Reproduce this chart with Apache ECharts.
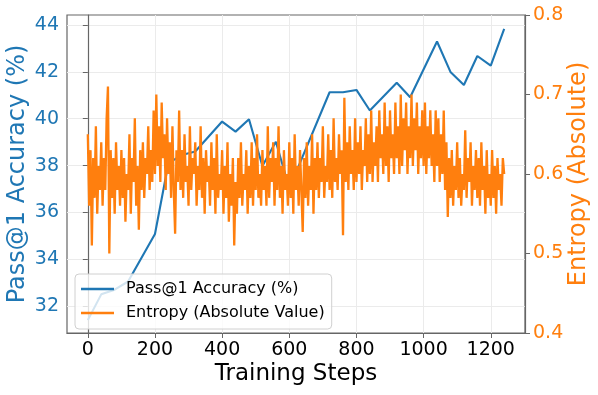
<!DOCTYPE html>
<html>
<head>
<meta charset="utf-8">
<script src="https://cdn.jsdelivr.net/npm/echarts@6/dist/echarts.min.js"></script>
<style>
  html, body { margin: 0; padding: 0; background: #fff; }
  #chart { width: 598px; height: 395px; }
</style>
</head>
<body>
<div id="chart"></div>
<script>
// Pass@1 accuracy, evaluated every ~40 steps
var accSteps = [0, 40, 80, 120, 200, 240, 280, 320, 400, 440, 480, 520, 560, 600,
                720, 760, 800, 840, 920, 960, 1040, 1080, 1120, 1160, 1200, 1240];
var accValues = [31.4, 32.5, 32.7, 33.05, 35.08, 38.1, 38.45, 38.6, 39.88, 39.45, 39.98, 37.98, 39.02, 37.03,
                 41.13, 41.13, 41.23, 40.35, 41.54, 40.92, 43.3, 42.0, 41.44, 42.68, 42.27, 43.84];

// entropy, one reading every 4 steps from 0 to 1240
var entropyEvery = 4;
var entropyValues = [
  0.65, 0.56, 0.63, 0.51, 0.62, 0.57, 0.66, 0.55, 0.61, 0.58,
  0.64, 0.56, 0.62, 0.58, 0.67, 0.71, 0.50, 0.63, 0.57, 0.62,
  0.55, 0.64, 0.58, 0.61, 0.56, 0.63, 0.57, 0.62, 0.54, 0.60,
  0.58, 0.65, 0.55, 0.62, 0.59, 0.67, 0.56, 0.61, 0.53, 0.63,
  0.58, 0.64, 0.57, 0.62, 0.60, 0.66, 0.58, 0.63, 0.59, 0.68,
  0.60, 0.70, 0.61, 0.66, 0.59, 0.69, 0.62, 0.65, 0.58, 0.67,
  0.60, 0.64, 0.57, 0.66, 0.58, 0.525, 0.63, 0.59, 0.68, 0.58,
  0.63, 0.57, 0.65, 0.59, 0.61, 0.56, 0.66, 0.58, 0.62, 0.60,
  0.64, 0.56, 0.61, 0.58, 0.66, 0.57, 0.62, 0.55, 0.63, 0.59,
  0.61, 0.56, 0.64, 0.58, 0.62, 0.55, 0.65, 0.57, 0.60, 0.58,
  0.63, 0.55, 0.61, 0.57, 0.64, 0.54, 0.60, 0.56, 0.62, 0.51,
  0.59, 0.55, 0.62, 0.57, 0.64, 0.56, 0.60, 0.58, 0.63, 0.55,
  0.61, 0.57, 0.64, 0.56, 0.62, 0.58, 0.65, 0.57, 0.60, 0.56,
  0.63, 0.58, 0.61, 0.56, 0.66, 0.57, 0.62, 0.59, 0.64, 0.56,
  0.62, 0.58, 0.66, 0.57, 0.61, 0.55, 0.63, 0.58, 0.60, 0.56,
  0.64, 0.57, 0.62, 0.55, 0.65, 0.58, 0.61, 0.56, 0.63, 0.58,
  0.527, 0.62, 0.57, 0.64, 0.56, 0.61, 0.58, 0.65, 0.55, 0.62,
  0.58, 0.64, 0.57, 0.62, 0.59, 0.66, 0.57, 0.61, 0.59, 0.65,
  0.58, 0.63, 0.57, 0.67, 0.59, 0.62, 0.58, 0.65, 0.60, 0.63,
  0.523, 0.696, 0.59, 0.64, 0.58, 0.66, 0.60, 0.63, 0.58, 0.67,
  0.59, 0.64, 0.60, 0.66, 0.58, 0.63, 0.61, 0.67, 0.59, 0.65,
  0.60, 0.68, 0.59, 0.64, 0.61, 0.66, 0.59, 0.68, 0.62, 0.65,
  0.60, 0.69, 0.61, 0.66, 0.59, 0.68, 0.62, 0.65, 0.60, 0.69,
  0.62, 0.66, 0.60, 0.70, 0.61, 0.67, 0.63, 0.69, 0.60, 0.66,
  0.62, 0.70, 0.61, 0.67, 0.63, 0.69, 0.60, 0.66, 0.62, 0.68,
  0.61, 0.69, 0.60, 0.66, 0.62, 0.68, 0.61, 0.65, 0.59, 0.68,
  0.61, 0.67, 0.59, 0.65, 0.60, 0.68, 0.58, 0.64, 0.546, 0.62,
  0.57, 0.63, 0.56, 0.61, 0.58, 0.64, 0.57, 0.62, 0.56, 0.60,
  0.58, 0.655, 0.57, 0.62, 0.59, 0.64, 0.56, 0.61, 0.58, 0.63,
  0.57, 0.62, 0.56, 0.64, 0.58, 0.61, 0.55, 0.63, 0.57, 0.60,
  0.56, 0.63, 0.57, 0.61, 0.55, 0.62, 0.58, 0.60, 0.56, 0.62,
  0.60
];

var xTicks = [0, 200, 400, 600, 800, 1000, 1200];
var accTicks = [32, 34, 36, 38, 40, 42, 44];
var entropyTicks = [0.4, 0.5, 0.6, 0.7, 0.8];

var BLUE = '#1f77b4';
var ORANGE = '#ff7f0e';
var FRAME = '#666';
var FONT = 'DejaVu Sans';

var accData = accSteps.map(function (s, i) { return [s, accValues[i]]; });
var entropyData = entropyValues.map(function (v, i) { return [i * entropyEvery, v]; });

var chart = echarts.init(document.getElementById('chart'));
chart.setOption({
  animation: false,
  textStyle: { fontFamily: FONT },
  grid: {
    left: 67, right: 73, top: 15, bottom: 62,
    outerBoundsMode: 'none',
    show: true, borderColor: FRAME, borderWidth: 1.2, backgroundColor: '#fff'
  },
  legend: {
    orient: 'vertical',
    left: 75, top: 274,
    icon: 'rect',
    itemWidth: 33, itemHeight: 2.5,
    itemGap: 4,
    padding: [5, 7, 6, 6],
    backgroundColor: 'rgba(255,255,255,0.8)',
    borderColor: '#d0d0d0', borderWidth: 1, borderRadius: 4,
    textStyle: { fontFamily: FONT, fontSize: 16, color: '#000', lineHeight: 20, padding: [0, 0, 0, 7] },
    data: ['Pass@1 Accuracy (%)', 'Entropy (Absolute Value)']
  },
  xAxis: {
    type: 'value',
    min: -62, max: 1302,
    name: 'Training Steps',
    nameLocation: 'middle',
    nameGap: 30,
    nameMoveOverlap: false,
    nameTextStyle: { fontFamily: FONT, fontSize: 23, color: '#000' },
    axisLine: { show: true, lineStyle: { color: FRAME, width: 1.2 } },
    axisTick: { show: true, length: 5, lineStyle: { color: FRAME }, customValues: xTicks },
    axisLabel: { fontFamily: FONT, fontSize: 19, color: '#000', margin: 8, customValues: xTicks,
                 formatter: function (v) { return String(v); } },
    splitLine: { show: true, lineStyle: { color: '#ebebeb', width: 1 } }
  },
  yAxis: [
    {
      type: 'value',
      position: 'left',
      min: 30.85, max: 44.43,
      name: 'Pass@1 Accuracy (%)',
      nameLocation: 'middle',
      nameRotate: 90,
      nameGap: 37,
      nameMoveOverlap: false,
      nameTextStyle: { fontFamily: FONT, fontSize: 24, color: BLUE },
      axisLine: { show: true, lineStyle: { color: FRAME, width: 1.2 } },
      axisTick: { show: true, length: 5, lineStyle: { color: FRAME }, customValues: accTicks },
      axisLabel: { fontFamily: FONT, fontSize: 19, color: BLUE, margin: 8, customValues: accTicks },
      splitLine: { show: true, lineStyle: { color: '#ebebeb', width: 1 } }
    },
    {
      type: 'value',
      position: 'right',
      min: 0.4, max: 0.8, interval: 0.1,
      name: 'Entropy (Absolute)',
      nameLocation: 'middle',
      nameRotate: 90,
      nameGap: 42,
      nameMoveOverlap: false,
      nameTextStyle: { fontFamily: FONT, fontSize: 24, color: ORANGE },
      axisLine: { show: true, lineStyle: { color: FRAME, width: 1.2 } },
      axisTick: { show: true, length: 5, lineStyle: { color: FRAME }, customValues: entropyTicks },
      axisLabel: { fontFamily: FONT, fontSize: 19, color: ORANGE, margin: 8, customValues: entropyTicks,
                   formatter: function (v) { return v.toFixed(1); } },
      splitLine: { show: false }
    }
  ],
  series: [
    {
      name: 'Pass@1 Accuracy (%)',
      type: 'line',
      yAxisIndex: 0,
      data: accData,
      showSymbol: false,
      color: BLUE,
      lineStyle: { color: BLUE, width: 2.1 },
      z: 2
    },
    {
      name: 'Entropy (Absolute Value)',
      type: 'line',
      yAxisIndex: 1,
      data: entropyData,
      showSymbol: false,
      color: ORANGE,
      lineStyle: { color: ORANGE, width: 2.3 },
      z: 3
    }
  ]
});
</script>
</body>
</html>
